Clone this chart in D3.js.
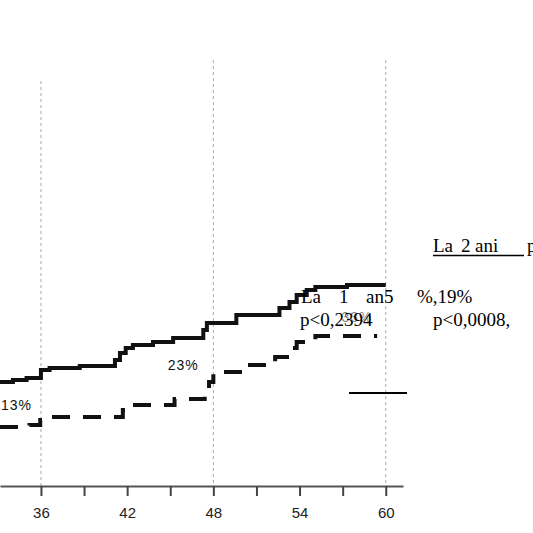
<!DOCTYPE html>
<html>
<head>
<meta charset="utf-8">
<script src="https://cdn.jsdelivr.net/npm/d3@7"></script>
<style>
  body { margin: 0; background: #fff; }
  svg { display: block; }
  .tick text { font-family: "Liberation Sans", Arial, sans-serif; font-size: 15px; fill: #222; }
  .pct { font-family: "Liberation Sans", Arial, sans-serif; font-size: 14px; letter-spacing: 1px; fill: #111; }
  .note { font-family: "Liberation Serif", "Times New Roman", serif; font-size: 19px; fill: #000; }
</style>
</head>
<body>
<svg id="chart" width="533" height="533"></svg>
<script>
// months of follow-up where each curve steps, and cumulative % after the step
const solidTimes  = [33.15, 34.05, 35.0, 36.0, 36.6, 38.7, 41.15, 41.5, 41.9, 42.4, 43.8, 45.2, 47.3, 47.55, 49.6, 52.6, 53.3, 53.8, 54.5, 55.1, 57.3];
const solidValues = [20.8, 21.2, 21.6, 23.2, 23.6, 24.0, 25.2, 26.6, 27.6, 28.2, 28.8, 29.6, 31.2, 32.6, 34.2, 35.6, 36.8, 38.2, 39.2, 39.8, 40.2];
const solidEnd = 60;

const dashTimes  = [33.15, 35.2, 35.95, 36.6, 41.7, 42.0, 45.3, 47.4, 47.7, 48.0, 50.2, 52.3, 53.5, 53.8, 55.1];
const dashValues = [11.8, 12.2, 13.2, 13.8, 15.2, 16.2, 17.4, 19.2, 20.8, 22.8, 24.2, 25.8, 27.6, 28.8, 30.0];
const dashEnd = 59.4;

const tickMonths = [33, 36, 39, 42, 45, 48, 51, 54, 57, 60];
const labelMonths = [36, 42, 48, 54, 60];
const gridMonths = [36, 48, 60];
const gridTops = [81, 60, 60];

const pctLabels = [
  { t: 34.3, p: 15.3, text: "13%" },
  { t: 45.9, p: 23.3, text: "23%" },
  { t: 58.0, p: 32.8, text: "33%" }
];

const svg = d3.select("#chart");

const x = d3.scaleLinear().domain([33.15, 61.2]).range([0, 403]);
const y = d3.scaleLinear().domain([0, 100]).range([486, -14]);

// dotted vertical gridlines
svg.selectAll(".grid")
  .data(gridMonths)
  .enter()
  .append("line")
  .attr("class", "grid")
  .attr("x1", d => x(d)).attr("x2", d => x(d))
  .attr("y1", (d, i) => gridTops[i])
  .attr("y2", y(0))
  .attr("stroke", "#aaa")
  .attr("stroke-width", 1)
  .attr("stroke-dasharray", "3,3");

// x axis
const axis = d3.axisBottom(x)
  .tickValues(tickMonths)
  .tickSize(10)
  .tickSizeOuter(0)
  .tickPadding(11)
  .tickFormat(d => labelMonths.includes(d) ? d : "");

const gAxis = svg.append("g")
  .attr("transform", `translate(0,${y(0)})`)
  .call(axis);
gAxis.select(".domain").attr("stroke", "#555").attr("stroke-width", 2);
gAxis.selectAll(".tick line").attr("stroke", "#444").attr("stroke-width", 2);

// step curves
const line = d3.line()
  .x(d => x(d[0]))
  .y(d => y(d[1]))
  .curve(d3.curveStepAfter);

const solidPts = solidTimes.map((t, i) => [t, solidValues[i]]);
solidPts.push([solidEnd, solidValues[solidValues.length - 1]]);
const dashPts = dashTimes.map((t, i) => [t, dashValues[i]]);
dashPts.push([dashEnd, dashValues[dashValues.length - 1]]);

svg.append("path")
  .datum(solidPts)
  .attr("d", line)
  .attr("fill", "none")
  .attr("stroke", "#111")
  .attr("stroke-width", 4);

svg.append("path")
  .datum(dashPts)
  .attr("d", line)
  .attr("fill", "none")
  .attr("stroke", "#111")
  .attr("stroke-width", 4)
  .attr("stroke-dasharray", "18,13");

// percentage labels on the curves
svg.selectAll(".pct")
  .data(pctLabels)
  .enter()
  .append("text")
  .attr("class", "pct")
  .attr("x", d => x(d.t))
  .attr("y", d => y(d.p))
  .attr("text-anchor", "middle")
  .attr("fill-opacity", (d, i) => i === 2 ? 0.55 : 1)
  .text(d => d.text);

// overlapping annotation text (pasted on top of the chart)
const notes = [
  { x: 433, y: 252, text: "La" },
  { x: 461, y: 252, text: "2" },
  { x: 475, y: 252, text: "ani" },
  { x: 527, y: 252, text: "p" },
  { x: 301, y: 303, text: "La" },
  { x: 339, y: 303, text: "1" },
  { x: 366, y: 303, text: "an5" },
  { x: 417, y: 303, text: "%,19%" },
  { x: 300, y: 326, text: "p<0,2394" },
  { x: 433, y: 326, text: "p<0,0008," }
];

svg.selectAll(".note")
  .data(notes)
  .enter()
  .append("text")
  .attr("class", "note")
  .attr("x", d => d.x)
  .attr("y", d => d.y)
  .text(d => d.text);

// underline of "La 2 ani"
svg.append("line")
  .attr("x1", 433).attr("x2", 524)
  .attr("y1", 255.5).attr("y2", 255.5)
  .attr("stroke", "#000").attr("stroke-width", 1.5);

// short legend stroke
svg.append("line")
  .attr("x1", 349).attr("x2", 407)
  .attr("y1", 393).attr("y2", 393)
  .attr("stroke", "#000").attr("stroke-width", 2);
</script>
</body>
</html>
